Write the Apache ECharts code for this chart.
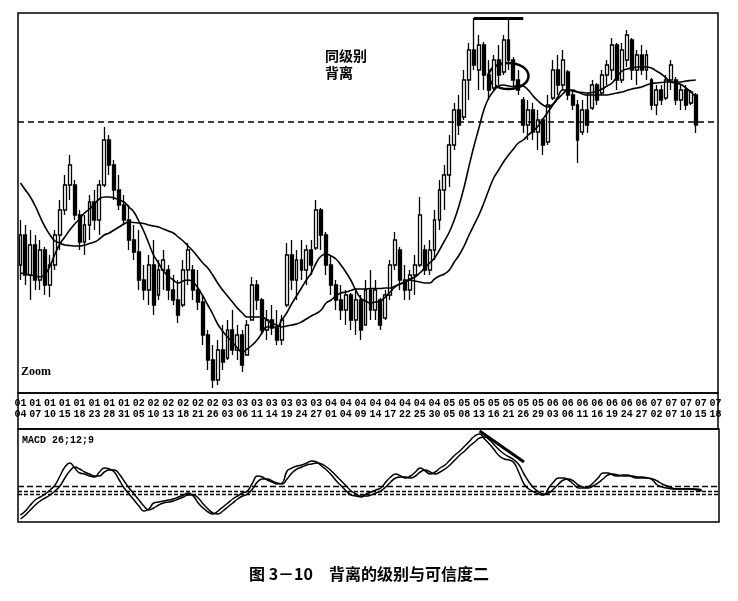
<!DOCTYPE html>
<html><head><meta charset="utf-8">
<script src="https://cdn.jsdelivr.net/npm/echarts@6/dist/echarts.min.js"></script>
<style>html,body{margin:0;padding:0;background:#fff}#c{width:738px;height:601px}</style>
</head><body><div id="c"></div>
<script>
// [open, close, low, high]
const ohlc = [
[23.5,26.5,22.0,28.0],[26.5,22.5,21.5,27.5],[22.5,25.5,20.0,27.0],[25.5,22.0,21.0,26.5],[22.0,25.0,21.0,26.0],
[25.0,21.5,20.5,25.3],[21.5,23.5,20.3,24.5],[23.5,26.5,23.0,27.0],[26.5,29.0,25.0,30.0],[29.0,31.5,28.5,32.5],
[31.5,33.5,30.0,34.5],[31.5,28.5,28.0,32.0],[28.5,25.8,25.0,29.0],[25.8,27.5,24.5,28.5],[27.5,29.8,26.0,30.5],
[29.8,28.0,27.0,31.0],[28.0,31.5,26.5,32.0],[31.5,36.0,31.3,37.3],[36.0,33.5,32.5,36.5],[33.5,31.0,30.0,34.0],
[31.0,29.5,29.0,32.5],[29.5,28.0,27.5,30.5],[28.0,26.0,25.0,29.5],[26.0,24.8,24.0,27.5],[24.8,22.0,21.0,27.0],
[22.0,21.0,20.0,23.5],[21.0,23.5,19.5,24.5],[23.5,19.5,18.5,26.0],[20.5,23.0,20.0,24.0],[23.0,24.0,21.0,25.0],
[23.0,21.0,20.0,23.5],[21.0,20.0,19.5,22.5],[20.0,18.5,17.7,22.0],[19.5,23.0,19.3,24.0],[23.0,25.0,21.5,25.7],
[23.0,21.0,20.0,23.5],[21.0,19.8,19.0,23.0],[19.8,16.5,15.5,20.5],[16.5,14.0,13.0,17.0],[14.0,12.0,11.2,15.5],
[12.0,15.0,11.5,16.0],[15.0,13.8,13.0,17.5],[14.2,17.0,14.0,18.0],[17.0,15.0,14.5,19.0],[15.0,16.5,14.0,17.5],
[16.5,13.5,12.8,17.0],[14.5,17.5,14.5,18.0],[18.0,21.5,18.0,22.3],[21.5,20.0,19.0,22.0],[20.0,17.0,16.5,20.2],
[17.0,18.0,16.0,19.0],[18.0,17.2,16.5,19.5],[17.2,16.0,15.5,19.0],[16.0,18.0,15.5,18.5],[19.5,24.5,19.3,25.7],
[24.5,22.0,21.0,26.0],[22.0,24.0,20.0,25.0],[24.0,23.0,22.0,26.0],[23.0,25.0,21.5,25.5],[25.0,23.5,22.5,26.0],
[25.2,29.0,25.0,30.0],[29.0,26.5,25.0,29.2],[26.5,23.5,22.5,26.8],[23.5,21.5,20.5,24.5],[21.5,20.0,19.0,22.0],
[20.0,19.0,18.0,21.5],[19.0,20.5,17.5,21.0],[20.5,18.0,17.0,20.7],[18.0,20.0,16.5,21.0],[20.0,17.0,16.0,20.5],
[17.5,21.0,17.5,22.0],[21.0,19.0,18.0,23.0],[19.0,21.0,18.0,22.0],[20.0,17.5,17.0,20.2],[18.2,20.5,18.0,21.0],
[20.5,23.5,20.0,24.0],[23.5,26.0,23.0,26.8],[25.0,22.0,21.0,25.3],[22.0,21.0,20.0,23.5],[21.0,22.5,20.0,23.0],
[22.5,23.5,20.5,24.5],[23.5,28.5,23.3,30.3],[25.0,23.0,22.5,25.5],[23.0,25.0,22.5,26.0],[25.0,28.0,24.0,29.0],
[28.0,31.0,27.0,32.0],[31.0,32.5,29.0,33.5],[32.5,35.5,31.3,36.5],[35.5,39.0,35.0,39.7],[39.0,37.5,36.5,40.5],
[38.3,42.0,38.0,43.0],[42.0,45.0,40.0,45.7],[45.0,43.5,43.0,48.2],[43.0,45.5,41.0,46.5],[45.5,42.5,41.0,45.8],
[42.5,41.0,40.0,44.0],[41.2,44.0,41.0,44.5],[44.0,42.5,41.5,45.5],[42.8,46.0,42.5,46.5],[46.0,44.0,43.0,48.0],
[44.0,42.0,41.0,44.3],[42.0,41.0,40.5,43.0],[40.0,37.5,36.7,40.3],[37.5,39.0,36.0,40.0],[39.0,36.8,36.0,39.7],
[36.8,38.0,35.0,39.0],[38.0,35.5,34.5,38.2],[35.8,39.5,35.5,40.5],[40.2,43.0,40.0,44.0],[43.0,41.5,40.5,44.5],
[41.5,44.0,41.0,45.0],[42.8,40.5,40.0,43.0],[40.5,39.5,39.0,41.0],[39.5,36.0,33.7,40.0],[36.8,39.0,36.5,40.0],
[39.0,37.5,36.7,40.7],[39.2,41.5,39.0,42.0],[41.5,40.0,39.5,41.7],[40.7,42.5,40.5,43.0],[42.5,43.5,41.5,44.0],
[43.0,45.5,42.0,46.2],[45.5,42.0,41.0,45.7],[42.0,45.0,41.7,45.7],[44.0,46.5,43.3,47.0],[46.0,43.0,42.0,46.2],
[43.0,44.5,41.5,45.0],[44.5,43.0,42.5,45.5],[43.0,44.5,42.0,45.0],[42.0,39.5,39.0,42.2],[39.5,41.0,38.5,41.5],
[41.0,40.0,39.5,41.5],[40.2,42.0,40.0,42.5],[42.0,43.5,41.0,44.0],[42.0,40.0,39.5,42.3],[40.0,41.0,39.0,41.5],
[41.0,39.5,39.0,41.5],[39.7,40.8,39.5,41.0],[40.5,37.5,36.7,40.7]
];
const maSlow = [
31.7,31.0,30.3,29.4,28.3,27.3,26.5,25.9,25.7,25.5,
25.45,25.4,25.4,25.5,25.65,25.8,26.1,26.5,26.7,27.0,
27.3,27.6,27.8,27.75,27.7,27.65,27.5,27.4,27.3,27.1,
26.9,26.7,26.3,25.9,25.4,24.9,24.3,23.7,23.2,22.5,
21.7,21.0,20.4,19.8,19.2,18.7,18.3,18.3,18.3,18.3,
18.0,17.7,17.5,17.3,17.4,17.5,17.6,17.8,18.1,18.4,
18.65,19.0,19.7,20.0,20.4,20.7,20.8,20.95,21.1,21.1,
21.1,21.15,21.15,21.15,21.2,21.2,21.4,21.6,21.8,22.0,
21.9,21.8,21.7,21.7,22.1,22.4,22.6,23.0,23.8,24.5,
25.4,26.5,27.5,28.5,29.7,31.0,32.2,33.0,33.8,34.5,
35.1,35.7,36.0,36.5,36.9,37.4,38.1,38.8,39.5,40.3,
41.0,41.0,41.0,40.8,40.6,40.5,40.5,40.5,40.5,40.5,
40.6,40.7,40.8,40.95,41.1,41.2,41.3,41.5,41.65,41.7,
41.75,41.8,41.8,41.8,41.8,41.9,41.95,42.0
];
const maFast = [
22.7,22.6,22.5,22.4,22.3,22.6,23.4,24.6,25.6,26.3,
27.0,27.6,28.1,28.7,29.1,29.6,30.1,30.3,30.3,30.2,
30.0,29.8,29.3,28.8,27.9,26.9,25.7,24.5,23.7,22.9,
22.4,22.0,21.7,21.9,22.0,21.8,21.2,20.4,19.5,18.6,
17.6,16.9,16.3,15.8,15.2,14.8,15.1,15.5,16.0,16.7,
17.3,17.3,17.3,18.0,18.7,19.6,20.4,21.2,22.0,22.7,
23.7,24.4,24.6,24.4,24.1,23.5,22.8,22.0,21.0,20.2,
19.9,19.7,19.8,19.9,20.3,20.8,21.3,21.6,21.8,22.1,
22.3,22.7,23.2,23.7,24.2,25.0,25.9,26.8,28.0,29.5,
31.3,33.4,35.4,37.2,39.0,40.2,40.9,41.4,41.5,41.4,
41.35,41.5,41.4,41.0,40.4,39.9,39.5,39.3,39.6,40.1,
40.6,41.0,40.9,40.8,40.75,40.7,40.75,40.9,41.1,41.4,
41.7,42.3,42.9,43.1,43.2,43.3,43.3,43.3,43.2,42.9,
42.6,42.2,41.8,41.7,41.55,41.2,40.8,40.3
];
const macdDif = [
-2.4,-2.0,-1.4,-0.9,-0.6,-0.3,0.1,0.6,1.5,2.4,
2.8,2.3,1.8,1.7,1.5,1.4,1.9,2.3,2.2,1.9,
1.1,0.3,-0.3,-0.9,-1.5,-2.0,-1.8,-1.2,-1.1,-1.0,
-0.9,-0.8,-0.6,-0.4,-0.2,-0.5,-1.2,-1.7,-2.1,-2.3,
-2.0,-1.6,-1.2,-0.8,-0.5,-0.2,0.0,0.8,1.5,1.4,
1.1,0.9,0.7,0.8,2.0,2.3,2.5,2.6,2.8,3.0,
2.9,2.5,2.1,1.6,1.0,0.5,0.0,-0.4,-0.5,-0.6,
-0.3,-0.1,0.1,0.3,0.9,1.4,1.7,1.5,1.3,1.5,
1.9,2.3,2.0,1.7,1.9,2.3,2.6,3.1,3.6,4.0,
4.5,5.0,5.5,5.7,5.2,4.7,4.1,3.5,3.2,3.1,
2.8,1.8,0.7,0.2,-0.1,-0.3,-0.4,0.3,0.9,1.3,
1.3,1.1,0.7,0.3,0.3,0.4,0.8,1.3,1.8,1.8,
1.6,1.5,1.6,1.6,1.4,1.3,1.3,1.3,1.1,0.6,
0.4,0.3,0.2,0.2,0.2,0.2,0.2,0.1,0.0
];
const macdDea = [
-2.8,-2.4,-1.9,-1.4,-1.0,-0.7,-0.4,0.0,0.5,1.3,
2.0,2.4,2.2,1.9,1.7,1.5,1.5,1.9,2.1,2.1,
1.7,1.0,0.3,-0.3,-0.9,-1.5,-1.9,-1.7,-1.4,-1.2,
-1.1,-1.0,-0.8,-0.6,-0.4,-0.4,-0.7,-1.3,-1.8,-2.2,
-2.3,-2.0,-1.6,-1.2,-0.8,-0.5,-0.3,0.2,0.9,1.2,
1.2,1.0,0.8,0.7,1.2,1.8,2.2,2.4,2.6,2.7,
2.8,2.7,2.4,2.0,1.5,1.0,0.5,0.0,-0.3,-0.5,
-0.5,-0.4,-0.2,0.0,0.4,0.9,1.3,1.4,1.4,1.3,
1.5,1.9,2.1,1.9,1.7,1.9,2.2,2.6,3.1,3.6,
4.0,4.5,4.9,5.3,5.4,5.1,4.6,4.1,3.7,3.4,
3.1,2.6,1.7,0.9,0.3,-0.1,-0.3,-0.2,0.2,0.7,
1.1,1.2,1.0,0.6,0.4,0.3,0.5,0.8,1.2,1.6,
1.7,1.6,1.5,1.5,1.5,1.4,1.4,1.3,1.2,1.0,
0.7,0.5,0.3,0.2,0.2,0.2,0.2,0.2,0.1
];
const tickLabels = ['01\n04','01\n07','01\n10','01\n15','01\n18','01\n23','01\n28','01\n31',
'02\n05','02\n10','02\n13','02\n18','02\n21','02\n26',
'03\n03','03\n06','03\n11','03\n14','03\n19','03\n24','03\n27',
'04\n01','04\n04','04\n09','04\n14','04\n17','04\n22','04\n25','04\n30',
'05\n05','05\n08','05\n13','05\n16','05\n21','05\n26','05\n29',
'06\n03','06\n06','06\n11','06\n16','06\n19','06\n24','06\n27',
'07\n02','07\n07','07\n10','07\n15','07\n18'];
const CAT_COUNT = 142;
const categories = [];
for (let i = 0; i < CAT_COUNT; i++) categories.push(i % 3 === 0 ? (tickLabels[i / 3] || '') : '');

const chart = echarts.init(document.getElementById('c'));
const lineBase = {type:'line', showSymbol:false, smooth:true, silent:true, symbol:'none'};
function buildOption(extraGraphics) {
  return {
    animation:false,
    backgroundColor:'#fff',
    textStyle:{fontFamily:'Noto Sans CJK SC'},
    title:{text:'图 3－10　背离的级别与可信度二', left:'center', top:566, padding:0,
      textStyle:{fontSize:16, fontWeight:'bold', color:'#000', fontFamily:'Noto Sans CJK SC'}},
    grid:[
      {left:18, right:20, top:13, height:380, show:true, borderColor:'#000', borderWidth:1.5, backgroundColor:'transparent'},
      {left:18, right:20, top:393, height:36, show:true, borderColor:'#000', borderWidth:1.5},
      {left:18, right:19, top:429, height:93, show:true, borderColor:'#000', borderWidth:1.5}
    ],
    xAxis:[
      {type:'category', gridIndex:0, data:categories, boundaryGap:true,
       axisLine:{show:false}, axisTick:{show:false}, splitLine:{show:false},
       axisLabel:{show:true, interval:0, fontSize:10, fontWeight:'bold', color:'#000', margin:5, lineHeight:11, fontFamily:'Liberation Mono'}},
      {type:'category', gridIndex:1, data:categories, show:false},
      {type:'category', gridIndex:2, data:categories, boundaryGap:true, show:false}
    ],
    yAxis:[
      {type:'value', gridIndex:0, min:10.7, max:48.7, show:false, splitLine:{show:false}},
      {type:'value', gridIndex:1, show:false, splitLine:{show:false}},
      {type:'value', gridIndex:2, min:-3.1, max:6.2, show:false, splitLine:{show:false}}
    ],
    series:[
      {type:'candlestick', xAxisIndex:0, yAxisIndex:0, data:ohlc, barWidth:3.4,
       itemStyle:{color:'#fff', color0:'#000', borderColor:'#000', borderColor0:'#000', borderWidth:1.3},
       markLine:{silent:true, symbol:['none','none'], label:{show:false},
         data:[
           {yAxis:37.8, lineStyle:{color:'#000', type:[6,4], width:1.5}},
           [{coord:[92,48.2], lineStyle:{color:'#000', type:'solid', width:3}}, {coord:[102,48.2]}]
         ]}},
      Object.assign({}, lineBase, {xAxisIndex:0, yAxisIndex:0, data:maSlow, lineStyle:{color:'#000', width:1.6}}),
      Object.assign({}, lineBase, {xAxisIndex:0, yAxisIndex:0, data:maFast, lineStyle:{color:'#000', width:1.6}}),
      Object.assign({}, lineBase, {xAxisIndex:2, yAxisIndex:2, data:macdDif, lineStyle:{color:'#000', width:1.5},
        markLine:{silent:true, symbol:['none','none'], label:{show:false},
          data:[
            {yAxis:0.5, lineStyle:{color:'#000', type:[6,3], width:1.4}},
            {yAxis:0.0, lineStyle:{color:'#000', type:[4,2], width:1.4}},
            {yAxis:-0.3, lineStyle:{color:'#000', type:[4,2], width:1.4}},
            [{coord:[93,6.0], lineStyle:{color:'#000', type:'solid', width:3}}, {coord:[102,2.9]}]
          ]}}),
      Object.assign({}, lineBase, {xAxisIndex:2, yAxisIndex:2, data:macdDea, lineStyle:{color:'#000', width:1.5}})
    ],
    graphic:[
      {id:'t1', type:'text', left:325, top:47, style:{text:'同级别\n背离', font:'bold 14px "Noto Sans CJK SC"', fill:'#000', lineHeight:17}},
      {id:'t2', type:'text', left:21, top:366, style:{text:'Zoom', font:'bold 12px "Liberation Serif"', fill:'#000'}},
      {id:'t3', type:'text', left:22, top:435, style:{text:'MACD 26;12;9', font:'bold 10px "Liberation Mono"', fill:'#000'}}
    ].concat(extraGraphics || [])
  };
}
chart.setOption(buildOption());
const c = chart.convertToPixel({xAxisIndex:0, yAxisIndex:0}, [99, 42.4]);
chart.setOption(buildOption([
  {id:'ell', type:'ellipse', shape:{cx:c[0], cy:c[1], rx:20, ry:13}, style:{fill:'none', stroke:'#000', lineWidth:2.5}}
]));
</script></body></html>
